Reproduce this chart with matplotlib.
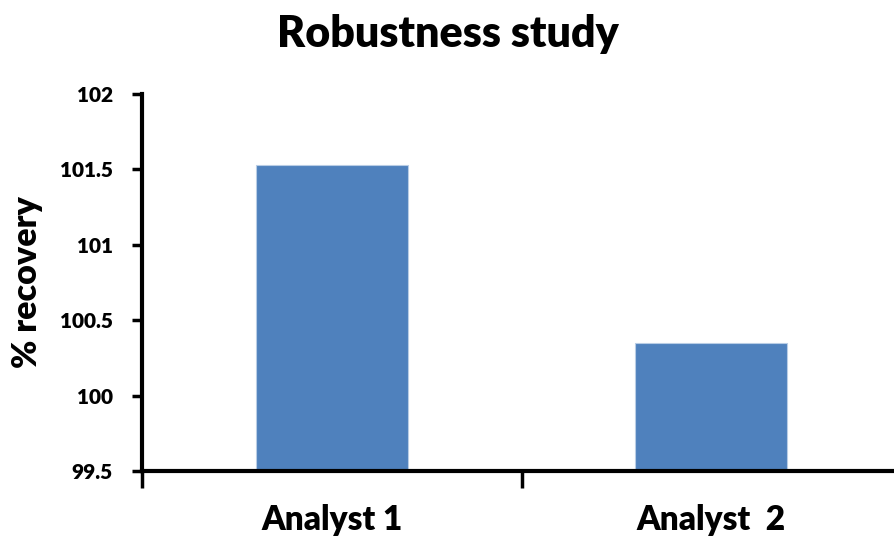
import matplotlib
matplotlib.use("Agg")
import matplotlib.pyplot as plt
from matplotlib.ticker import FixedLocator

categories = ["Analyst 1", "Analyst  2"]
recovery = [101.53, 100.35]
y_ticks = [99.5, 100, 100.5, 101, 101.5, 102]
y_tick_labels = ["99.5", "100", "100.5", "101", "101.5", "102"]

plt.rcParams["font.family"] = ["Lato", "DejaVu Sans"]
WEIGHT = "heavy"

fig = plt.figure(figsize=(8.95, 5.37), dpi=100)
ax = fig.add_axes([142 / 895, 1 - 471 / 537, 1 - 142 / 895, (471 - 94) / 537])

x = list(range(len(categories)))
base = y_ticks[0]
ax.bar(x, [v - base for v in recovery], bottom=base, width=0.4,
       color="#4F81BD", edgecolor="#B9CDE5", linewidth=0.8, zorder=2)

ax.set_xlim(-0.5, 1.5 - 6 / 379)
ax.set_ylim(y_ticks[0], y_ticks[-1])

ax.set_yticks(y_ticks)
ax.set_yticklabels(y_tick_labels, fontsize=15, fontweight=WEIGHT)
ax.set_xticks(x)
ax.set_xticklabels(categories, fontsize=24, fontweight=WEIGHT)
ax.xaxis.set_minor_locator(FixedLocator([-0.5, 0.5, 1.5]))

ax.tick_params(axis="x", which="major", length=0, pad=24)
ax.tick_params(axis="x", which="minor", length=12, width=2.5, direction="out")
ax.tick_params(axis="y", which="major", length=7, width=2.5, direction="out", pad=14)

for side in ("top", "right"):
    ax.spines[side].set_visible(False)
for side in ("left", "bottom"):
    ax.spines[side].set_linewidth(3)

ax.set_ylabel("% recovery", fontsize=24.5, fontweight=WEIGHT, labelpad=12)
fig.text(0.5, 1 - 47 / 537, "Robustness study", ha="center", va="baseline",
         fontsize=31, fontweight=WEIGHT)

fig.savefig("out.png", dpi=100)
